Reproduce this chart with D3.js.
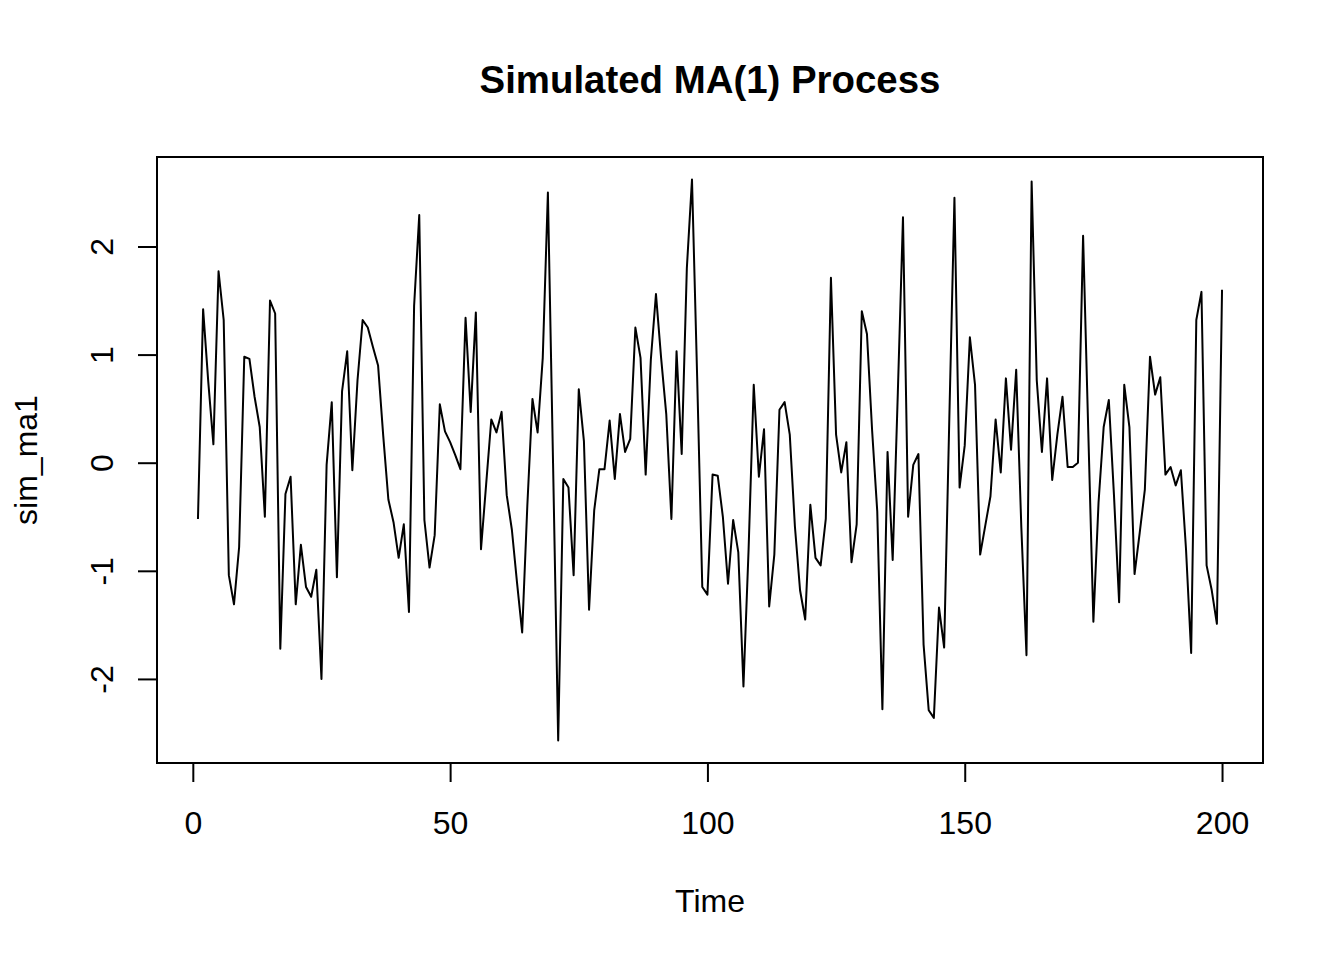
<!DOCTYPE html>
<html>
<head>
<meta charset="utf-8">
<script src="https://cdn.jsdelivr.net/npm/d3@7"></script>
<style>
  body { margin: 0; background: #fff; }
  text { font-family: "Liberation Sans", Arial, sans-serif; fill: #000; }
</style>
</head>
<body>
<div id="chart"></div>
<script>
// simulated MA(1) series (t = 1..200)
const simMa1 = [
  -0.52, 1.42, 0.75, 0.17, 1.77, 1.32, -1.04, -1.31, -0.78, 0.98,
  0.96, 0.61, 0.33, -0.50, 1.50, 1.38, -1.72, -0.29, -0.13, -1.31,
  -0.76, -1.15, -1.24, -0.99, -2.00, -0.02, 0.56, -1.06, 0.66, 1.03,
  -0.07, 0.76, 1.32, 1.25, 1.07, 0.90, 0.25, -0.34, -0.55, -0.88,
  -0.57, -1.38, 1.45, 2.29, -0.53, -0.97, -0.67, 0.54, 0.29, 0.19,
  0.07, -0.06, 1.34, 0.47, 1.39, -0.80, -0.20, 0.40, 0.28, 0.47,
  -0.30, -0.62, -1.11, -1.57, -0.40, 0.59, 0.28, 0.97, 2.50, 0.00,
  -2.57, -0.15, -0.23, -1.04, 0.68, 0.20, -1.36, -0.44, -0.06, -0.06,
  0.39, -0.15, 0.45, 0.10, 0.22, 1.25, 0.97, -0.11, 0.95, 1.56,
  0.97, 0.45, -0.52, 1.03, 0.08, 1.80, 2.62, 0.80, -1.15, -1.22,
  -0.11, -0.12, -0.50, -1.12, -0.53, -0.83, -2.07, -0.80, 0.72, -0.13,
  0.31, -1.33, -0.85, 0.49, 0.56, 0.26, -0.59, -1.18, -1.45, -0.39,
  -0.88, -0.95, -0.52, 1.71, 0.26, -0.09, 0.19, -0.92, -0.57, 1.40,
  1.19, 0.30, -0.45, -2.28, 0.10, -0.90, 0.65, 2.27, -0.50, -0.02,
  0.08, -1.68, -2.29, -2.36, -1.34, -1.71, 0.40, 2.45, -0.23, 0.16,
  1.16, 0.72, -0.85, -0.58, -0.31, 0.40, -0.09, 0.78, 0.12, 0.86,
  -0.60, -1.78, 2.60, 0.76, 0.10, 0.78, -0.16, 0.26, 0.61, -0.04,
  -0.04, 0.00, 2.10, 0.30, -1.47, -0.37, 0.33, 0.58, -0.30, -1.29,
  0.72, 0.33, -1.03, -0.65, -0.25, 0.98, 0.63, 0.79, -0.11, -0.04,
  -0.21, -0.07, -0.80, -1.76, 1.32, 1.58, -0.95, -1.18, -1.49, 1.60
];
const xTicks = [0, 50, 100, 150, 200];
const yTicks = [-2, -1, 0, 1, 2];
const titleText = "Simulated MA(1) Process";
const xLabel = "Time";
const yLabel = "sim_ma1";

const width = 1344, height = 960;
const box = { left: 157, right: 1263, top: 157, bottom: 763 };
const tickLen = 19;

const data = simMa1.map((v, i) => ({ t: i + 1, v }));

// R style axis ranges: data range padded by 4%
function pad(ext) {
  const d = (ext[1] - ext[0]) * 0.04;
  return [ext[0] - d, ext[1] + d];
}

const x = d3.scaleLinear()
  .domain(pad(d3.extent(data, d => d.t)))
  .range([box.left, box.right]);
const y = d3.scaleLinear()
  .domain(pad(d3.extent(data, d => d.v)))
  .range([box.bottom, box.top]);

const svg = d3.select("#chart").append("svg")
  .attr("width", width)
  .attr("height", height);

svg.append("rect")
  .attr("width", width)
  .attr("height", height)
  .attr("fill", "#fff");

// series
svg.append("path")
  .datum(data)
  .attr("fill", "none")
  .attr("stroke", "#000")
  .attr("stroke-width", 2)
  .attr("stroke-linejoin", "round")
  .attr("d", d3.line().x(d => x(d.t)).y(d => y(d.v)));

// box
svg.append("rect")
  .attr("x", box.left)
  .attr("y", box.top)
  .attr("width", box.right - box.left)
  .attr("height", box.bottom - box.top)
  .attr("fill", "none")
  .attr("stroke", "#000")
  .attr("stroke-width", 2);

// x axis
const xAxis = svg.append("g")
  .attr("transform", `translate(0,${box.bottom})`)
  .call(d3.axisBottom(x).tickValues(xTicks).tickSizeInner(tickLen).tickSizeOuter(0).tickPadding(29));
xAxis.select(".domain")
  .attr("d", `M${x(xTicks[0])},0H${x(xTicks[xTicks.length - 1])}`)
  .attr("stroke", "#000").attr("stroke-width", 2);
xAxis.selectAll(".tick line").attr("stroke", "#000").attr("stroke-width", 2);
xAxis.selectAll(".tick text")
  .attr("font-family", "Liberation Sans, Arial, sans-serif")
  .attr("font-size", 32)
  .attr("fill", "#000");

// y axis, labels rotated like R default (plain hyphen minus)
const yAxis = svg.append("g")
  .attr("transform", `translate(${box.left},0)`)
  .call(d3.axisLeft(y).tickValues(yTicks).tickSizeInner(tickLen).tickSizeOuter(0).tickFormat(d => String(d)));
yAxis.select(".domain")
  .attr("d", `M0,${y(yTicks[0])}V${y(yTicks[yTicks.length - 1])}`)
  .attr("stroke", "#000").attr("stroke-width", 2);
yAxis.selectAll(".tick line").attr("stroke", "#000").attr("stroke-width", 2);
yAxis.selectAll(".tick text")
  .attr("font-family", "Liberation Sans, Arial, sans-serif")
  .attr("font-size", 32)
  .attr("fill", "#000")
  .attr("text-anchor", "middle")
  .attr("dy", null)
  .attr("x", null)
  .attr("transform", `translate(${113 - box.left},0) rotate(-90)`)
  .attr("y", 0);

// title and axis labels
svg.append("text")
  .attr("x", (box.left + box.right) / 2)
  .attr("y", 93)
  .attr("text-anchor", "middle")
  .attr("font-size", 38.4)
  .attr("font-weight", "bold")
  .text(titleText);

svg.append("text")
  .attr("x", (box.left + box.right) / 2)
  .attr("y", 912)
  .attr("text-anchor", "middle")
  .attr("font-size", 32)
  .text(xLabel);

svg.append("text")
  .attr("transform", `translate(37,${(box.top + box.bottom) / 2}) rotate(-90)`)
  .attr("text-anchor", "middle")
  .attr("font-size", 32)
  .text(yLabel);
</script>
</body>
</html>
